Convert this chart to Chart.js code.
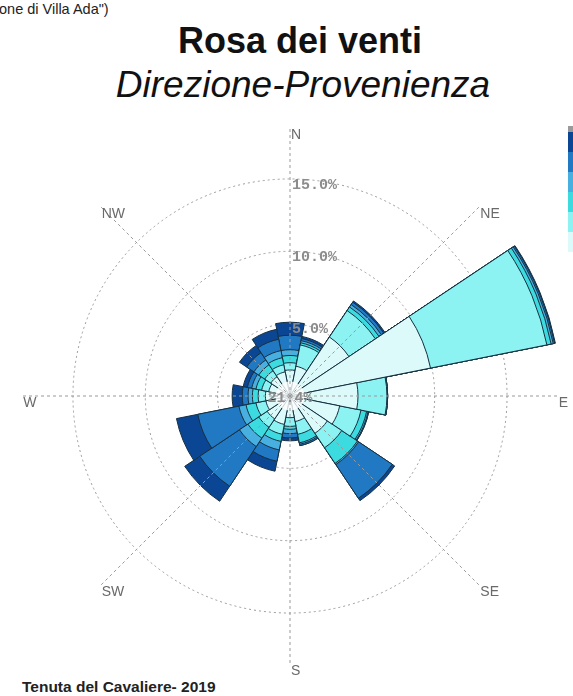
<!DOCTYPE html>
<html>
<head>
<meta charset="utf-8">
<script src="https://cdn.jsdelivr.net/npm/chart.js@4.4.1/dist/chart.umd.min.js"></script>
<style>
  html, body { margin: 0; padding: 0; background: #fff; }
  body { width: 573px; height: 696px; position: relative; overflow: hidden; font-family: "Liberation Sans", Arial, sans-serif; }
  #note { position: absolute; left: -1px; top: 1px; font-size: 14.5px; line-height: 16px; color: #222; white-space: nowrap; }
  #title { position: absolute; left: 0; width: 600px; top: 23px; text-align: center; font-weight: bold; font-size: 36px; line-height: 36px; color: #111; }
  #sub { position: absolute; left: 0; width: 606px; top: 66px; text-align: center; font-style: italic; font-size: 37px; line-height: 37px; color: #111; }
  #wrap { position: absolute; left: 10px; top: 116px; width: 560px; height: 560px; }
  #foot { position: absolute; left: 22px; top: 679px; font-weight: bold; font-size: 15.5px; line-height: 16px; color: #222; white-space: nowrap; }
  #bar { position: absolute; left: 568px; top: 126px; width: 5px; }
  #bar div { width: 5px; }
</style>
</head>
<body>
<div id="note">one di Villa Ada")</div>
<div id="title">Rosa dei venti</div>
<div id="sub">Direzione-Provenienza</div>
<div id="wrap"><canvas id="rose"></canvas></div>
<div id="foot">Tenuta del Cavaliere- 2019</div>
<div id="bar"></div>
<script>
// directions clockwise from north
const directions = ["N", "NNE", "NE", "ENE", "E", "ESE", "SE", "SSE", "S", "SSW", "SW", "WSW", "W", "WNW", "NW", "NNW"];

// frequency (%) per speed class, lightest (slowest) first
const class1 = [1.8, 2.1, 4.9, 9.9, 4.7, 3.5, 3.1, 1.8, 1.5, 2.0, 1.9, 1.7, 1.7, 1.5, 1.6, 1.7];
const class2 = [0.5, 1.5, 2.2, 8.2, 2.0, 1.5, 1.2, 0.9, 0.6, 0.7, 0.7, 0.7, 0.5, 0.5, 0.5, 0.5];
const class3 = [0.5, 0.15, 0.3, 0.3, 0.05, 0.4, 1.3, 0.6, 0.2, 0.5, 0.9, 0.7, 0.4, 0.4, 0.5, 0.5];
const class4 = [0.4, 0.15, 0.2, 0.15, 0, 0.1, 0.1, 0.1, 0.3, 0.6, 0.7, 0.5, 0.3, 0.3, 0.4, 0.5];
const class5 = [1.0, 0.15, 0.2, 0.1, 0, 0.05, 2.8, 0.1, 0.3, 0.8, 3.3, 2.9, 0.4, 0.3, 0.6, 0.8];
const class6 = [0.9, 0.15, 0.1, 0.05, 0, 0, 0.2, 0, 0.2, 0.7, 1.25, 1.5, 0.7, 0.3, 0.6, 0.7];

const classColors = ["#dcfafa", "#8cf2f2", "#3cdbe0", "#48b0e0", "#2079c2", "#0b4694"];
const calmPct = 21.4;
const ringTicks = [5, 10, 15];
const compassLabels = ["N", "NE", "E", "SE", "S", "SW", "W", "NW"];

// colour strip (legend cut off at the right edge)
const bar = document.getElementById("bar");
const grey = document.createElement("div");
grey.style.height = "6px"; grey.style.background = "#9a9a9a";
bar.appendChild(grey);
classColors.slice().reverse().forEach(function(c) {
    const d = document.createElement("div");
    d.style.height = "20px"; d.style.background = c;
    bar.appendChild(d);
});

// cumulative stacks: polar area arcs start at the centre, smaller ones drawn on top
const classes = [class1, class2, class3, class4, class5, class6];
let running = directions.map(function() { return 0; });
const datasets = classes.map(function(vals, k) {
    running = running.map(function(r, i) { return +(r + vals[i]).toFixed(2); });
    return {
        label: "classe " + (k + 1),
        data: running,
        backgroundColor: classColors[k],
        borderColor: "#163040",
        borderWidth: 1
    };
});

const roseDecor = {
    id: "roseDecor",
    afterDatasetsDraw: function(chart) {
        const s = chart.scales.r, ctx = chart.ctx;
        ctx.save();
        ctx.fillStyle = "rgba(255,255,255,0.8)";
        ctx.beginPath();
        ctx.arc(s.xCenter, s.yCenter, s.getDistanceFromCenterForValue(1.0), 0, 2 * Math.PI);
        ctx.fill();
        ctx.restore();
    },
    afterDraw: function(chart) {
        const s = chart.scales.r, ctx = chart.ctx;
        const cx = s.xCenter, cy = s.yCenter;
        const lineEnd = s.getDistanceFromCenterForValue(18.6);
        const labelR = s.getDistanceFromCenterForValue(18.5);
        ctx.save();
        ctx.strokeStyle = "#9a9a9a";
        ctx.lineWidth = 1;
        ctx.setLineDash([3, 3]);
        compassLabels.forEach(function(c, i) {
            const a = i * Math.PI / 4;
            ctx.beginPath();
            ctx.moveTo(cx, cy);
            ctx.lineTo(cx + lineEnd * Math.sin(a), cy - lineEnd * Math.cos(a));
            ctx.stroke();
        });
        ctx.setLineDash([]);
        ctx.fillStyle = "#6a6a6a";
        ctx.font = "14px 'Liberation Sans'";
        ctx.textAlign = "left";
        ctx.textBaseline = "middle";
        compassLabels.forEach(function(c, i) {
            const a = i * Math.PI / 4;
            ctx.fillText(c, cx + labelR * Math.sin(a) + 1, cy - labelR * Math.cos(a) + 7);
        });
        ctx.font = "bold 15px 'Liberation Mono'";
        ctx.fillStyle = "#8c8c8c";
        ctx.textAlign = "left";
        ringTicks.forEach(function(v) {
            ctx.fillText(v.toFixed(1) + "%", cx + 2, cy - s.getDistanceFromCenterForValue(v) + 6);
        });
        ctx.textAlign = "center";
        ctx.fillText(calmPct.toFixed(1) + "%", cx, cy + 2);
        ctx.restore();
    }
};

new Chart(document.getElementById("rose"), {
    type: "polarArea",
    data: { labels: directions, datasets: datasets },
    options: {
        responsive: true,
        maintainAspectRatio: false,
        animation: false,
        layout: { padding: 0 },
        plugins: { legend: { display: false }, tooltip: { enabled: false } },
        scales: {
            r: {
                min: 0,
                max: 19.35,
                startAngle: -11.25,
                z: 1,
                afterBuildTicks: function(scale) {
                    scale.ticks = [0].concat(ringTicks).map(function(v) { return { value: v }; });
                },
                ticks: { display: false },
                angleLines: { display: false },
                pointLabels: { display: false },
                grid: { circular: true, color: "#9a9a9a", lineWidth: 1 },
                border: { dash: [2, 3] }
            }
        }
    },
    plugins: [roseDecor]
});
</script>
</body>
</html>
